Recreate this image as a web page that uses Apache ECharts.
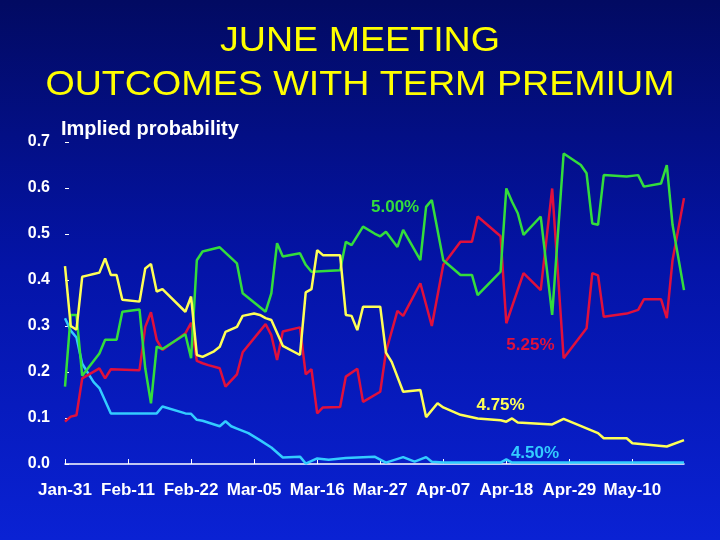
<!DOCTYPE html>
<html><head><meta charset="utf-8">
<script src="https://cdn.jsdelivr.net/npm/echarts@6/dist/echarts.min.js"></script>
<style>html,body{margin:0;padding:0;width:720px;height:540px;overflow:hidden;background:#000a64}#c{width:720px;height:540px}</style>
</head><body><div id="c"></div>
<script>
// x values are calendar days after Jan-31
const tickLabels = ['Jan-31','Feb-11','Feb-22','Mar-05','Mar-16','Mar-27','Apr-07','Apr-18','Apr-29','May-10'];
const seriesNames = ['4.50%','5.25%','5.00%','4.75%'];
const titleLines = ['JUNE MEETING', 'OUTCOMES WITH TERM PREMIUM'];
const yAxisTitle = 'Implied probability';

const s450 = [[0,0.317],[1,0.29],[2,0.275],[3,0.218],[5,0.178],[6,0.165],[8,0.11],[16,0.11],[17,0.125],[21,0.11],[22,0.109],[23,0.096],[24,0.094],[27,0.082],[28,0.093],[29,0.082],[30,0.077],[32,0.067],[34,0.052],[36,0.036],[38,0.014],[41,0.016],[42,0.001],[44,0.012],[46,0.009],[49,0.013],[54,0.016],[56,0.003],[59,0.015],[61,0.005],[63,0.015],[64,0.005],[66,0.003],[76,0.003],[77,0.01],[78,0.003],[108,0.003]];

const s475 = [[0,0.43],[1,0.30],[2,0.292],[3,0.407],[4,0.41],[5,0.413],[6,0.416],[7,0.447],[8,0.411],[9,0.411],[10,0.357],[13,0.353],[14,0.425],[15,0.435],[16,0.375],[17,0.38],[21,0.331],[22,0.364],[23,0.237],[24,0.233],[26,0.245],[27,0.255],[28,0.287],[30,0.298],[31,0.322],[33,0.327],[34,0.324],[35,0.317],[36,0.313],[38,0.257],[41,0.237],[42,0.373],[43,0.38],[44,0.465],[45,0.454],[48,0.454],[49,0.324],[50,0.322],[51,0.291],[52,0.342],[55,0.342],[56,0.242],[57,0.222],[59,0.157],[62,0.161],[63,0.102],[65,0.132],[66,0.123],[69,0.107],[72,0.099],[76,0.095],[77,0.092],[78,0.099],[79,0.090],[85,0.086],[87,0.098],[93,0.067],[94,0.056],[98,0.056],[99,0.045],[105,0.038],[108,0.052]];

const s500 = [[0,0.168],[1,0.324],[2,0.324],[3,0.192],[6,0.24],[7,0.27],[9,0.27],[10,0.331],[13,0.336],[14,0.208],[15,0.132],[16,0.255],[17,0.25],[21,0.282],[22,0.23],[23,0.443],[24,0.462],[27,0.471],[30,0.436],[31,0.371],[35,0.331],[36,0.371],[37,0.48],[38,0.451],[41,0.458],[42,0.433],[43,0.418],[48,0.421],[49,0.483],[50,0.476],[52,0.516],[54,0.501],[55,0.495],[56,0.505],[58,0.472],[59,0.509],[62,0.443],[63,0.559],[64,0.574],[66,0.443],[69,0.411],[71,0.411],[72,0.367],[76,0.418],[77,0.599],[78,0.57],[79,0.545],[80,0.498],[83,0.538],[85,0.324],[87,0.675],[90,0.65],[91,0.632],[92,0.523],[93,0.52],[94,0.628],[98,0.625],[100,0.628],[101,0.603],[104,0.61],[105,0.65],[106,0.52],[108,0.378]];

const s525 = [[0,0.092],[1,0.103],[2,0.106],[3,0.186],[6,0.208],[7,0.186],[8,0.206],[13,0.204],[14,0.298],[15,0.33],[16,0.27],[17,0.248],[21,0.284],[22,0.307],[23,0.224],[24,0.219],[25,0.215],[27,0.208],[28,0.168],[30,0.195],[31,0.243],[35,0.304],[36,0.28],[37,0.226],[38,0.288],[41,0.297],[42,0.195],[43,0.206],[44,0.11],[45,0.123],[48,0.124],[49,0.19],[51,0.207],[52,0.135],[55,0.157],[56,0.244],[58,0.333],[59,0.322],[62,0.393],[64,0.30],[66,0.433],[69,0.483],[71,0.483],[72,0.538],[76,0.495],[77,0.306],[80,0.415],[83,0.378],[85,0.599],[87,0.23],[91,0.295],[92,0.415],[93,0.41],[94,0.32],[98,0.327],[100,0.335],[101,0.358],[104,0.358],[105,0.317],[106,0.443],[108,0.578]];

// label anchor points (day, probability) for the series annotations
const labelAt450 = [82, 0.023];
const labelAt475 = [76, 0.128];
const labelAt500 = [57.6, 0.559];
const labelAt525 = [81.2, 0.259];

const FONT = '"Liberation Sans", Arial, sans-serif';
const chart = echarts.init(document.getElementById('c'), null, {renderer: 'canvas'});

function lineSeries(name, data, color, anchor) {
  return {
    name: name, type: 'line', data: data, showSymbol: false, symbol: 'none',
    lineStyle: {color: color, width: 2.5}, itemStyle: {color: color},
    animation: false, z: 3,
    markPoint: {
      symbol: 'circle', symbolSize: 1, silent: true,
      itemStyle: {color: 'rgba(0,0,0,0)'},
      label: {show: true, position: 'inside', formatter: name, color: color,
              fontSize: 17, fontWeight: 'bold', fontFamily: FONT},
      data: [{coord: anchor}]
    }
  };
}

function titleText(txt, y) {
  return {
    type: 'text', x: 360, y: y, scaleX: 1.075, silent: true,
    style: {text: txt, fill: '#ffff00', font: 'normal 35px ' + FONT, align: 'center', verticalAlign: 'middle'}
  };
}

chart.setOption({
  animation: false,
  backgroundColor: new echarts.graphic.LinearGradient(0, 0, 0, 1, [
    {offset: 0, color: '#020a62'},
    {offset: 0.5, color: '#0414a8'},
    {offset: 1, color: '#0a22d4'}
  ]),
  graphic: [
    titleText(titleLines[0], 41),
    titleText(titleLines[1], 85)
  ],
  title: [
    {text: yAxisTitle, left: 56, top: 114,
     textStyle: {color: '#ffffff', fontSize: 20, fontWeight: 'bold', fontFamily: FONT}}
  ],
  grid: {left: 65, right: 36, top: 142, bottom: 76},
  xAxis: {
    type: 'value', min: 0, max: 108, interval: 11,
    axisLine: {show: true, lineStyle: {color: '#ffffff', width: 1.5}},
    axisTick: {show: true, inside: true, length: 5, lineStyle: {color: '#ffffff'}},
    splitLine: {show: false},
    axisLabel: {
      color: '#ffffff', fontSize: 17, fontWeight: 'bold', fontFamily: FONT, margin: 18,
      showMaxLabel: false,
      formatter: function (v) { const i = Math.round(v / 11); return (v % 11 === 0 && i < tickLabels.length) ? tickLabels[i] : ''; }
    }
  },
  yAxis: {
    type: 'value', min: 0, max: 0.7, interval: 0.1,
    axisLine: {show: false},
    axisTick: {show: true, inside: true, length: 4, lineStyle: {color: '#ffffff'}},
    splitLine: {show: false},
    axisLabel: {color: '#ffffff', fontSize: 16, fontWeight: 'bold', fontFamily: FONT, margin: 15,
      formatter: function (v) { return v.toFixed(1); }}
  },
  series: [
    lineSeries(seriesNames[0], s450, '#33ccff', labelAt450),
    lineSeries(seriesNames[1], s525, '#e0103c', labelAt525),
    lineSeries(seriesNames[2], s500, '#33dd3c', labelAt500),
    lineSeries(seriesNames[3], s475, '#ffff55', labelAt475)
  ]
});
</script></body></html>
